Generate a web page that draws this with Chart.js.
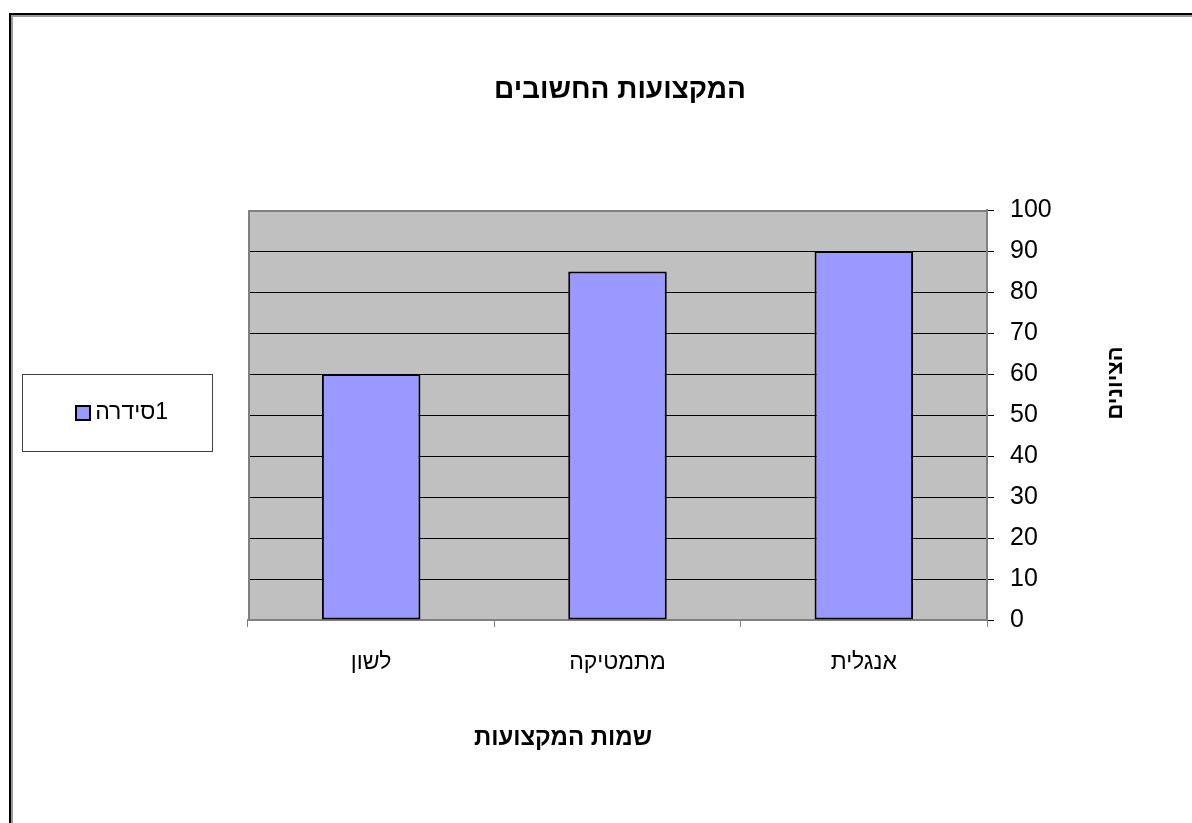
<!DOCTYPE html>
<html>
<head>
<meta charset="utf-8">
<script src="https://cdn.jsdelivr.net/npm/chart.js@4/dist/chart.umd.min.js"></script>
<style>
  html, body { margin: 0; padding: 0; background: #fff; }
  #wrap { width: 1192px; height: 823px; }
</style>
</head>
<body>
<div id="wrap"><canvas id="myChart" width="1192" height="823"></canvas></div>
<script>
const subjects = ['לשון', 'מתמטיקה', 'אנגלית']
const grades = [60, 85, 90]
const seriesName = '1סידרה'
const chartTitle = 'המקצועות החשובים'
const xTitle = 'שמות המקצועות'
const yTitle = 'הציונים'

const font = 'Arial, "Liberation Sans", sans-serif'

// gray plot background, frame, legend box and titles
const excelLook = {
    id: 'excelLook',
    beforeDraw(chart) {
        const c = chart.ctx
        const a = chart.chartArea
        c.save()
        c.fillStyle = '#fff'
        c.fillRect(0, 0, chart.width, chart.height)
        // outer frame (only top/left visible)
        c.fillStyle = '#9a9a9a'
        c.fillRect(10, 15, chart.width, 2)
        c.fillRect(11, 15, 2, chart.height)
        c.fillStyle = '#000'
        c.fillRect(9, 13, chart.width, 2)
        c.fillRect(9, 13, 2, chart.height)
        // plot area
        c.fillStyle = '#c0c0c0'
        c.fillRect(a.left, a.top, a.right - a.left, a.bottom - a.top)
        c.restore()
    },
    afterDraw(chart) {
        const c = chart.ctx
        const a = chart.chartArea
        c.save()
        c.strokeStyle = '#808080'
        c.lineWidth = 2
        c.beginPath()
        c.moveTo(a.left + 1, a.bottom)
        c.lineTo(a.left + 1, a.top + 1)
        c.lineTo(a.right, a.top + 1)
        c.stroke()

        c.fillStyle = '#000'
        c.direction = 'rtl'
        c.textAlign = 'center'
        c.textBaseline = 'middle'
        c.font = 'bold 28px ' + font
        c.fillText(chartTitle, 620, 90)
        c.font = 'bold 24px ' + font
        c.fillText(xTitle, 563, 738)
        c.save()
        c.font = 'bold 22px ' + font
        c.translate(1116, 383)
        c.rotate(-Math.PI / 2)
        c.fillText(yTitle, 0, 0)
        c.restore()

        // legend
        c.strokeStyle = '#404040'
        c.lineWidth = 1
        c.strokeRect(22.5, 374.5, 190, 77)
        const ds = chart.data.datasets[0]
        c.fillStyle = ds.backgroundColor
        c.fillRect(76, 406, 14, 14)
        c.strokeStyle = '#000'
        c.lineWidth = 2
        c.strokeRect(76, 406, 14, 14)
        c.fillStyle = '#000'
        c.font = '23px ' + font
        c.textAlign = 'right'
        c.fillText(ds.label, 168, 413)
        c.restore()
    }
}

const ctx = document.getElementById('myChart').getContext('2d')
window.bar = new Chart(ctx, {
    type: 'bar',
    data: {
        labels: subjects,
        datasets: [{
            label: seriesName,
            data: grades,
            backgroundColor: '#9999ff',
            borderColor: '#000',
            borderWidth: 2,
            borderSkipped: false,
            categoryPercentage: 1,
            barPercentage: 0.4
        }]
    },
    options: {
        responsive: false,
        animation: false,
        devicePixelRatio: 1,
        layout: { padding: { left: 248, top: 210, right: 125, bottom: 143 } },
        plugins: {
            legend: { display: false },
            tooltip: { enabled: false }
        },
        scales: {
            x: {
                offset: true,
                grid: {
                    offset: true,
                    drawOnChartArea: false,
                    color: '#808080',
                    tickLength: 7,
                    lineWidth: 1
                },
                border: { color: '#808080', width: 2 },
                ticks: {
                    color: '#000',
                    font: { family: font, size: 23 },
                    padding: 22,
                    maxRotation: 0
                },
                afterFit(s) { s.height = 60 }
            },
            y: {
                position: 'right',
                min: 0,
                max: 100,
                grid: {
                    color: ctx => ctx.tick && ctx.tick.value === 100 ? 'rgba(0,0,0,0)' : '#000',
                    tickColor: '#000',
                    tickLength: 7,
                    lineWidth: 1
                },
                border: { color: '#808080', width: 2 },
                ticks: {
                    stepSize: 10,
                    color: '#000',
                    font: { family: font, size: 25 },
                    padding: 16
                },
                afterFit(s) { s.width = 80 }
            }
        }
    },
    plugins: [excelLook]
})
</script>
</body>
</html>
